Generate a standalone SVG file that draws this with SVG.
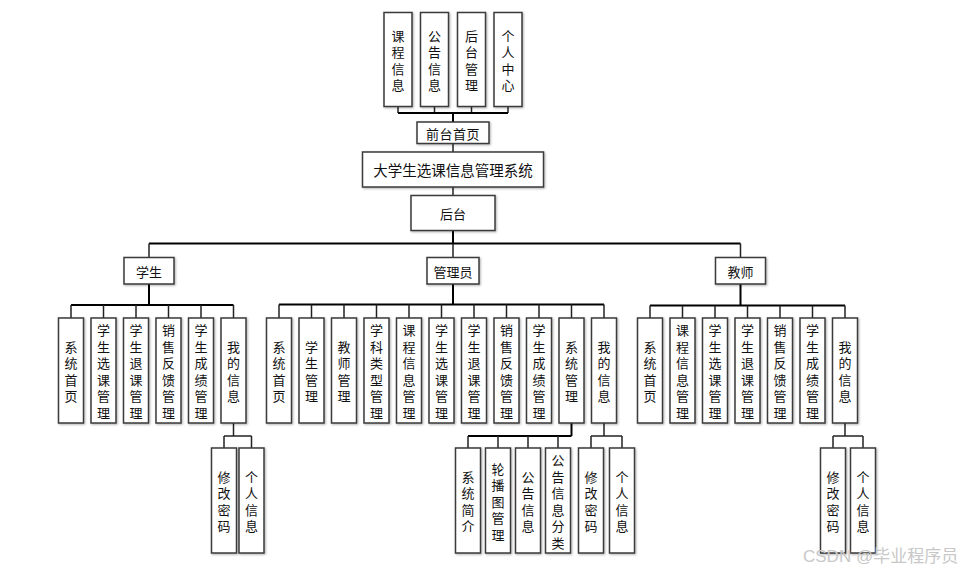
<svg xmlns="http://www.w3.org/2000/svg" width="972" height="575" viewBox="0 0 972 575">
<defs>
<filter id="sh" x="-20%" y="-20%" width="140%" height="140%"><feDropShadow dx="1" dy="1" stdDeviation="0.8" flood-color="#000" flood-opacity="0.3"/></filter>
</defs>
<style>
.b{fill:#fff;stroke:#3a3a3a;stroke-width:1.5;filter:url(#sh)}
text{font-family:"Noto Sans CJK SC","Noto Sans",sans-serif;font-size:13px;fill:#111;text-anchor:middle;dominant-baseline:central}
.t{font-size:14.5px}
.c line{stroke:#222;stroke-width:1.5;fill:none}
.c .k{stroke:#000;stroke-width:2}
.wm{font-family:"Liberation Sans","Noto Sans CJK SC",sans-serif;font-size:17px;fill:#c8c8c8;text-anchor:start}
</style>
<rect width="972" height="575" fill="#fff"/>
<g class="c" id="connectors">
<line x1="398" y1="106.5" x2="398" y2="113"/><line x1="434.5" y1="106.5" x2="434.5" y2="113"/><line x1="471.5" y1="106.5" x2="471.5" y2="113"/><line x1="508" y1="106.5" x2="508" y2="113"/>
<line class="k" x1="398" y1="113" x2="508" y2="113"/>
<line class="k" x1="453" y1="113" x2="453" y2="122"/>
<line x1="453" y1="143.5" x2="453" y2="152"/>
<line x1="453" y1="187" x2="453" y2="195.5"/>
<line class="k" x1="453" y1="230.5" x2="453" y2="243.5"/>
<line class="k" x1="149" y1="243.5" x2="740.5" y2="243.5"/>
<line x1="149" y1="243.5" x2="149" y2="257.5"/><line x1="453" y1="243.5" x2="453" y2="257.5"/><line x1="740.5" y1="243.5" x2="740.5" y2="257.5"/>
<line class="k" x1="149" y1="284" x2="149" y2="305"/>
<line class="k" x1="71" y1="305" x2="233.5" y2="305"/>
<line x1="71" y1="305" x2="71" y2="318"/><line x1="103.5" y1="305" x2="103.5" y2="318"/><line x1="136" y1="305" x2="136" y2="318"/><line x1="168.5" y1="305" x2="168.5" y2="318"/><line x1="201" y1="305" x2="201" y2="318"/><line x1="233.5" y1="305" x2="233.5" y2="318"/>
<line class="k" x1="453" y1="284" x2="453" y2="304.5"/>
<line class="k" x1="279" y1="304.5" x2="604" y2="304.5"/>
<line x1="279" y1="304.5" x2="279" y2="318"/><line x1="311.5" y1="304.5" x2="311.5" y2="318"/><line x1="344" y1="304.5" x2="344" y2="318"/><line x1="376.5" y1="304.5" x2="376.5" y2="318"/><line x1="409" y1="304.5" x2="409" y2="318"/><line x1="441.5" y1="304.5" x2="441.5" y2="318"/><line x1="474" y1="304.5" x2="474" y2="318"/><line x1="506.5" y1="304.5" x2="506.5" y2="318"/><line x1="539" y1="304.5" x2="539" y2="318"/><line x1="571.5" y1="304.5" x2="571.5" y2="318"/><line x1="604" y1="304.5" x2="604" y2="318"/>
<line class="k" x1="740.5" y1="284" x2="740.5" y2="305.5"/>
<line class="k" x1="650" y1="305.5" x2="845" y2="305.5"/>
<line x1="650" y1="305.5" x2="650" y2="318"/><line x1="682.5" y1="305.5" x2="682.5" y2="318"/><line x1="715" y1="305.5" x2="715" y2="318"/><line x1="747.5" y1="305.5" x2="747.5" y2="318"/><line x1="780" y1="305.5" x2="780" y2="318"/><line x1="812.5" y1="305.5" x2="812.5" y2="318"/><line x1="845" y1="305.5" x2="845" y2="318"/>
<line x1="233.5" y1="423" x2="233.5" y2="436"/><line x1="224" y1="436" x2="251.5" y2="436"/><line x1="224" y1="436" x2="224" y2="448"/><line x1="251.5" y1="436" x2="251.5" y2="448"/>
<line class="k" x1="571.5" y1="423" x2="571.5" y2="436"/><line class="k" x1="468" y1="436" x2="571.5" y2="436"/>
<line x1="468" y1="436" x2="468" y2="448"/><line x1="498" y1="436" x2="498" y2="448"/><line x1="528" y1="436" x2="528" y2="448"/><line x1="558" y1="436" x2="558" y2="448"/>
<line x1="604" y1="423" x2="604" y2="436"/><line x1="591" y1="436" x2="622" y2="436"/><line x1="591" y1="436" x2="591" y2="448"/><line x1="622" y1="436" x2="622" y2="448"/>
<line x1="845" y1="423" x2="845" y2="436"/><line x1="833" y1="436" x2="863" y2="436"/><line x1="833" y1="436" x2="833" y2="448"/><line x1="863" y1="436" x2="863" y2="448"/>
</g>
<g id="top1"><rect class="b" x="384" y="12.5" width="28" height="94"/><text><tspan x="398" y="34.75">课</tspan><tspan x="398" y="51.25">程</tspan><tspan x="398" y="67.75">信</tspan><tspan x="398" y="84.25">息</tspan></text></g>
<g id="top2"><rect class="b" x="420.5" y="12.5" width="28" height="94"/><text><tspan x="434.5" y="34.75">公</tspan><tspan x="434.5" y="51.25">告</tspan><tspan x="434.5" y="67.75">信</tspan><tspan x="434.5" y="84.25">息</tspan></text></g>
<g id="top3"><rect class="b" x="457.5" y="12.5" width="28" height="94"/><text><tspan x="471.5" y="34.75">后</tspan><tspan x="471.5" y="51.25">台</tspan><tspan x="471.5" y="67.75">管</tspan><tspan x="471.5" y="84.25">理</tspan></text></g>
<g id="top4"><rect class="b" x="494" y="12.5" width="28" height="94"/><text><tspan x="508" y="34.75">个</tspan><tspan x="508" y="51.25">人</tspan><tspan x="508" y="67.75">中</tspan><tspan x="508" y="84.25">心</tspan></text></g>
<g id="front"><rect class="b" x="417" y="122" width="72" height="21.5"/><text x="453" y="133" letter-spacing="0.5">前台首页</text></g>
<g id="system"><rect class="b" x="362.5" y="152" width="181" height="35"/><text class="t" x="453" y="169.5">大学生选课信息管理系统</text></g>
<g id="backend"><rect class="b" x="411" y="195.5" width="84" height="35"/><text x="453" y="213">后台</text></g>
<g id="student"><rect class="b" x="124" y="257.5" width="50" height="26.5"/><text x="149" y="271">学生</text></g>
<g id="admin"><rect class="b" x="427" y="257.5" width="52" height="26.5"/><text x="453" y="271">管理员</text></g>
<g id="teacher"><rect class="b" x="715.5" y="257.5" width="50" height="26.5"/><text x="740.5" y="271">教师</text></g>
<g id="s1"><rect class="b" x="58.5" y="318" width="25" height="105"/><text><tspan x="71" y="345.75">系</tspan><tspan x="71" y="362.25">统</tspan><tspan x="71" y="378.75">首</tspan><tspan x="71" y="395.25">页</tspan></text></g>
<g id="s2"><rect class="b" x="91" y="318" width="25" height="105"/><text><tspan x="103.5" y="329.25">学</tspan><tspan x="103.5" y="345.75">生</tspan><tspan x="103.5" y="362.25">选</tspan><tspan x="103.5" y="378.75">课</tspan><tspan x="103.5" y="395.25">管</tspan><tspan x="103.5" y="411.75">理</tspan></text></g>
<g id="s3"><rect class="b" x="123.5" y="318" width="25" height="105"/><text><tspan x="136" y="329.25">学</tspan><tspan x="136" y="345.75">生</tspan><tspan x="136" y="362.25">退</tspan><tspan x="136" y="378.75">课</tspan><tspan x="136" y="395.25">管</tspan><tspan x="136" y="411.75">理</tspan></text></g>
<g id="s4"><rect class="b" x="156" y="318" width="25" height="105"/><text><tspan x="168.5" y="329.25">销</tspan><tspan x="168.5" y="345.75">售</tspan><tspan x="168.5" y="362.25">反</tspan><tspan x="168.5" y="378.75">馈</tspan><tspan x="168.5" y="395.25">管</tspan><tspan x="168.5" y="411.75">理</tspan></text></g>
<g id="s5"><rect class="b" x="188.5" y="318" width="25" height="105"/><text><tspan x="201" y="329.25">学</tspan><tspan x="201" y="345.75">生</tspan><tspan x="201" y="362.25">成</tspan><tspan x="201" y="378.75">绩</tspan><tspan x="201" y="395.25">管</tspan><tspan x="201" y="411.75">理</tspan></text></g>
<g id="s6"><rect class="b" x="221" y="318" width="25" height="105"/><text><tspan x="233.5" y="345.75">我</tspan><tspan x="233.5" y="362.25">的</tspan><tspan x="233.5" y="378.75">信</tspan><tspan x="233.5" y="395.25">息</tspan></text></g>
<g id="s6a"><rect class="b" x="211.5" y="448" width="25" height="105"/><text><tspan x="224" y="475.75">修</tspan><tspan x="224" y="492.25">改</tspan><tspan x="224" y="508.75">密</tspan><tspan x="224" y="525.25">码</tspan></text></g>
<g id="s6b"><rect class="b" x="239" y="448" width="25" height="105"/><text><tspan x="251.5" y="475.75">个</tspan><tspan x="251.5" y="492.25">人</tspan><tspan x="251.5" y="508.75">信</tspan><tspan x="251.5" y="525.25">息</tspan></text></g>
<g id="a1"><rect class="b" x="266.5" y="318" width="25" height="105"/><text><tspan x="279" y="345.75">系</tspan><tspan x="279" y="362.25">统</tspan><tspan x="279" y="378.75">首</tspan><tspan x="279" y="395.25">页</tspan></text></g>
<g id="a2"><rect class="b" x="299" y="318" width="25" height="105"/><text><tspan x="311.5" y="345.75">学</tspan><tspan x="311.5" y="362.25">生</tspan><tspan x="311.5" y="378.75">管</tspan><tspan x="311.5" y="395.25">理</tspan></text></g>
<g id="a3"><rect class="b" x="331.5" y="318" width="25" height="105"/><text><tspan x="344" y="345.75">教</tspan><tspan x="344" y="362.25">师</tspan><tspan x="344" y="378.75">管</tspan><tspan x="344" y="395.25">理</tspan></text></g>
<g id="a4"><rect class="b" x="364" y="318" width="25" height="105"/><text><tspan x="376.5" y="329.25">学</tspan><tspan x="376.5" y="345.75">科</tspan><tspan x="376.5" y="362.25">类</tspan><tspan x="376.5" y="378.75">型</tspan><tspan x="376.5" y="395.25">管</tspan><tspan x="376.5" y="411.75">理</tspan></text></g>
<g id="a5"><rect class="b" x="396.5" y="318" width="25" height="105"/><text><tspan x="409" y="329.25">课</tspan><tspan x="409" y="345.75">程</tspan><tspan x="409" y="362.25">信</tspan><tspan x="409" y="378.75">息</tspan><tspan x="409" y="395.25">管</tspan><tspan x="409" y="411.75">理</tspan></text></g>
<g id="a6"><rect class="b" x="429" y="318" width="25" height="105"/><text><tspan x="441.5" y="329.25">学</tspan><tspan x="441.5" y="345.75">生</tspan><tspan x="441.5" y="362.25">选</tspan><tspan x="441.5" y="378.75">课</tspan><tspan x="441.5" y="395.25">管</tspan><tspan x="441.5" y="411.75">理</tspan></text></g>
<g id="a7"><rect class="b" x="461.5" y="318" width="25" height="105"/><text><tspan x="474" y="329.25">学</tspan><tspan x="474" y="345.75">生</tspan><tspan x="474" y="362.25">退</tspan><tspan x="474" y="378.75">课</tspan><tspan x="474" y="395.25">管</tspan><tspan x="474" y="411.75">理</tspan></text></g>
<g id="a8"><rect class="b" x="494" y="318" width="25" height="105"/><text><tspan x="506.5" y="329.25">销</tspan><tspan x="506.5" y="345.75">售</tspan><tspan x="506.5" y="362.25">反</tspan><tspan x="506.5" y="378.75">馈</tspan><tspan x="506.5" y="395.25">管</tspan><tspan x="506.5" y="411.75">理</tspan></text></g>
<g id="a9"><rect class="b" x="526.5" y="318" width="25" height="105"/><text><tspan x="539" y="329.25">学</tspan><tspan x="539" y="345.75">生</tspan><tspan x="539" y="362.25">成</tspan><tspan x="539" y="378.75">绩</tspan><tspan x="539" y="395.25">管</tspan><tspan x="539" y="411.75">理</tspan></text></g>
<g id="a10"><rect class="b" x="559" y="318" width="25" height="105"/><text><tspan x="571.5" y="345.75">系</tspan><tspan x="571.5" y="362.25">统</tspan><tspan x="571.5" y="378.75">管</tspan><tspan x="571.5" y="395.25">理</tspan></text></g>
<g id="a11"><rect class="b" x="591.5" y="318" width="25" height="105"/><text><tspan x="604" y="345.75">我</tspan><tspan x="604" y="362.25">的</tspan><tspan x="604" y="378.75">信</tspan><tspan x="604" y="395.25">息</tspan></text></g>
<g id="a10a"><rect class="b" x="455.5" y="448" width="25" height="105"/><text><tspan x="468" y="475.75">系</tspan><tspan x="468" y="492.25">统</tspan><tspan x="468" y="508.75">简</tspan><tspan x="468" y="525.25">介</tspan></text></g>
<g id="a10b"><rect class="b" x="485.5" y="448" width="25" height="105"/><text><tspan x="498" y="467.5">轮</tspan><tspan x="498" y="484">播</tspan><tspan x="498" y="500.5">图</tspan><tspan x="498" y="517">管</tspan><tspan x="498" y="533.5">理</tspan></text></g>
<g id="a10c"><rect class="b" x="515.5" y="448" width="25" height="105"/><text><tspan x="528" y="475.75">公</tspan><tspan x="528" y="492.25">告</tspan><tspan x="528" y="508.75">信</tspan><tspan x="528" y="525.25">息</tspan></text></g>
<g id="a10d"><rect class="b" x="545.5" y="448" width="25" height="105"/><text><tspan x="558" y="459.25">公</tspan><tspan x="558" y="475.75">告</tspan><tspan x="558" y="492.25">信</tspan><tspan x="558" y="508.75">息</tspan><tspan x="558" y="525.25">分</tspan><tspan x="558" y="541.75">类</tspan></text></g>
<g id="a11a"><rect class="b" x="578.5" y="448" width="25" height="105"/><text><tspan x="591" y="475.75">修</tspan><tspan x="591" y="492.25">改</tspan><tspan x="591" y="508.75">密</tspan><tspan x="591" y="525.25">码</tspan></text></g>
<g id="a11b"><rect class="b" x="609.5" y="448" width="25" height="105"/><text><tspan x="622" y="475.75">个</tspan><tspan x="622" y="492.25">人</tspan><tspan x="622" y="508.75">信</tspan><tspan x="622" y="525.25">息</tspan></text></g>
<g id="t1"><rect class="b" x="637.5" y="318" width="25" height="105"/><text><tspan x="650" y="345.75">系</tspan><tspan x="650" y="362.25">统</tspan><tspan x="650" y="378.75">首</tspan><tspan x="650" y="395.25">页</tspan></text></g>
<g id="t2"><rect class="b" x="670" y="318" width="25" height="105"/><text><tspan x="682.5" y="329.25">课</tspan><tspan x="682.5" y="345.75">程</tspan><tspan x="682.5" y="362.25">信</tspan><tspan x="682.5" y="378.75">息</tspan><tspan x="682.5" y="395.25">管</tspan><tspan x="682.5" y="411.75">理</tspan></text></g>
<g id="t3"><rect class="b" x="702.5" y="318" width="25" height="105"/><text><tspan x="715" y="329.25">学</tspan><tspan x="715" y="345.75">生</tspan><tspan x="715" y="362.25">选</tspan><tspan x="715" y="378.75">课</tspan><tspan x="715" y="395.25">管</tspan><tspan x="715" y="411.75">理</tspan></text></g>
<g id="t4"><rect class="b" x="735" y="318" width="25" height="105"/><text><tspan x="747.5" y="329.25">学</tspan><tspan x="747.5" y="345.75">生</tspan><tspan x="747.5" y="362.25">退</tspan><tspan x="747.5" y="378.75">课</tspan><tspan x="747.5" y="395.25">管</tspan><tspan x="747.5" y="411.75">理</tspan></text></g>
<g id="t5"><rect class="b" x="767.5" y="318" width="25" height="105"/><text><tspan x="780" y="329.25">销</tspan><tspan x="780" y="345.75">售</tspan><tspan x="780" y="362.25">反</tspan><tspan x="780" y="378.75">馈</tspan><tspan x="780" y="395.25">管</tspan><tspan x="780" y="411.75">理</tspan></text></g>
<g id="t6"><rect class="b" x="800" y="318" width="25" height="105"/><text><tspan x="812.5" y="329.25">学</tspan><tspan x="812.5" y="345.75">生</tspan><tspan x="812.5" y="362.25">成</tspan><tspan x="812.5" y="378.75">绩</tspan><tspan x="812.5" y="395.25">管</tspan><tspan x="812.5" y="411.75">理</tspan></text></g>
<g id="t7"><rect class="b" x="832.5" y="318" width="25" height="105"/><text><tspan x="845" y="345.75">我</tspan><tspan x="845" y="362.25">的</tspan><tspan x="845" y="378.75">信</tspan><tspan x="845" y="395.25">息</tspan></text></g>
<g id="t7a"><rect class="b" x="820.5" y="448" width="25" height="105"/><text><tspan x="833" y="475.75">修</tspan><tspan x="833" y="492.25">改</tspan><tspan x="833" y="508.75">密</tspan><tspan x="833" y="525.25">码</tspan></text></g>
<g id="t7b"><rect class="b" x="850.5" y="448" width="25" height="105"/><text><tspan x="863" y="475.75">个</tspan><tspan x="863" y="492.25">人</tspan><tspan x="863" y="508.75">信</tspan><tspan x="863" y="525.25">息</tspan></text></g>
<text class="wm" x="803" y="556">CSDN @毕业程序员</text>
</svg>
